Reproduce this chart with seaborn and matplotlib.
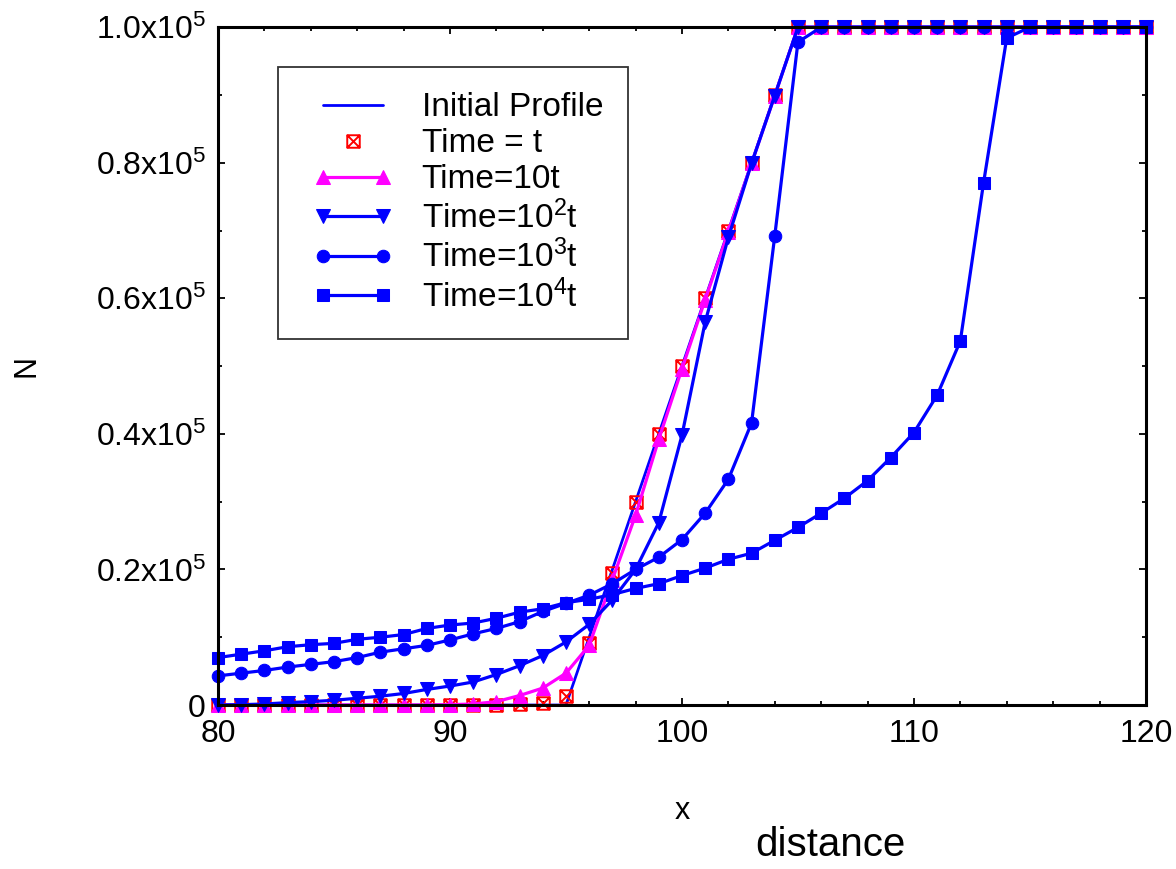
import numpy as np
import pandas as pd
import matplotlib
matplotlib.use("Agg")
import matplotlib.pyplot as plt
import seaborn as sns
from matplotlib.path import Path
from matplotlib.lines import Line2D
from matplotlib.legend_handler import HandlerLine2D
from matplotlib.ticker import MultipleLocator, FixedLocator, FixedFormatter

# ---------------- data ----------------
x = list(range(80, 121))

initial = [0, 0, 0, 0, 0, 0, 0, 0, 0, 0, 0, 0, 0, 0, 0, 0,
           10000, 20000, 30000, 40000, 50000, 60000, 70000, 80000, 90000,
           100000, 100000, 100000, 100000, 100000, 100000, 100000, 100000,
           100000, 100000, 100000, 100000, 100000, 100000, 100000, 100000]

time_t = [0, 0, 0, 0, 0, 0, 0, 0, 0, 0, 0, 0, 0, 100, 250, 1400,
          9200, 19500, 29900, 40000, 50000, 60000, 70000, 80000, 90000,
          100000, 100000, 100000, 100000, 100000, 100000, 100000, 100000,
          100000, 100000, 100000, 100000, 100000, 100000, 100000, 100000]

time_10t = [0, 0, 0, 0, 0, 0, 0, 0, 0, 0, 50, 150, 500, 1400, 2500, 4700,
            8800, 18500, 28000, 39200, 49600, 59800, 69800, 79900, 89900,
            100000, 100000, 100000, 100000, 100000, 100000, 100000, 100000,
            100000, 100000, 100000, 100000, 100000, 100000, 100000, 100000]

time_1e2t = [0, 50, 150, 350, 500, 700, 1000, 1300, 1700, 2300, 2800, 3400,
             4500, 5800, 7300, 9300, 11900, 15500, 20000, 26900, 39800, 56500,
             69000, 79900, 89900,
             100000, 100000, 100000, 100000, 100000, 100000, 100000, 100000,
             100000, 100000, 100000, 100000, 100000, 100000, 100000, 100000]

time_1e3t = [4300, 4700, 5100, 5600, 6000, 6400, 7000, 7800, 8300, 8800,
             9600, 10500, 11300, 12300, 13800, 15000, 16200, 17900, 20000,
             21800, 24400, 28300, 33300, 41600, 69200, 97800,
             100000, 100000, 100000, 100000, 100000, 100000, 100000, 100000,
             100000, 100000, 100000, 100000, 100000, 100000, 100000]

time_1e4t = [7000, 7500, 8000, 8600, 8900, 9100, 9700, 10000, 10400, 11300,
             11800, 12100, 12800, 13700, 14200, 15100, 15600, 16300, 17200,
             17900, 19100, 20200, 21500, 22400, 24300, 26200, 28300, 30500,
             33100, 36500, 40200, 45700, 53700, 77000, 98400,
             100000, 100000, 100000, 100000, 100000, 100000]

labels = ["Initial Profile", "Time = t", "Time=10t",
          "Time=10$^{\\mathregular{2}}$t", "Time=10$^{\\mathregular{3}}$t",
          "Time=10$^{\\mathregular{4}}$t"]

x_ticks = [80, 90, 100, 110, 120]
x_ticklabels = ["80", "90", "100", "110", "120"]
y_ticks = [0, 20000, 40000, 60000, 80000, 100000]
y_ticklabels = ["0", "0.2x10$^{\\mathregular{5}}$", "0.4x10$^{\\mathregular{5}}$",
                "0.6x10$^{\\mathregular{5}}$", "0.8x10$^{\\mathregular{5}}$",
                "1.0x10$^{\\mathregular{5}}$"]

# ---------------- style ----------------
sns.set_theme(style="white")
plt.rcParams["font.family"] = ["Liberation Sans", "DejaVu Sans"]
plt.rcParams["mathtext.fontset"] = "custom"
plt.rcParams["mathtext.rm"] = "Liberation Sans"
plt.rcParams["mathtext.it"] = "Liberation Sans:italic"
plt.rcParams["mathtext.bf"] = "Liberation Sans:bold"
plt.rcParams["text.color"] = "black"
plt.rcParams["axes.labelcolor"] = "black"
plt.rcParams["xtick.color"] = "black"
plt.rcParams["ytick.color"] = "black"

BLUE = "#0000ff"
MAGENTA = "#ff00ff"
RED = "#ff0000"

fig = plt.figure(figsize=(11.76, 8.69), dpi=100)
ax = fig.add_axes([0.1854, 0.1887, 0.789, 0.780])

# square-with-cross marker
sqx = Path([(-1, -1), (1, -1), (1, 1), (-1, 1), (-1, -1),
            (-1, -1), (1, 1), (-1, 1), (1, -1)],
           [Path.MOVETO, Path.LINETO, Path.LINETO, Path.LINETO, Path.CLOSEPOLY,
            Path.MOVETO, Path.LINETO, Path.MOVETO, Path.LINETO])

lw = 2.3
sns.lineplot(x=x, y=initial, ax=ax, color=BLUE, linewidth=2.0,
             label=labels[0], clip_on=False)
sns.lineplot(x=x, y=time_t, ax=ax, color=RED, linestyle="none", marker=sqx,
             markersize=9, markerfacecolor="none", markeredgecolor=RED,
             markeredgewidth=1.4, label=labels[1], clip_on=False)
sns.lineplot(x=x, y=time_10t, ax=ax, color=MAGENTA, linewidth=lw, marker="^",
             markersize=10, markeredgecolor=MAGENTA, label=labels[2], clip_on=False)
sns.lineplot(x=x, y=time_1e2t, ax=ax, color=BLUE, linewidth=lw, marker="v",
             markersize=10.5, markeredgecolor=BLUE, label=labels[3], clip_on=False)
sns.lineplot(x=x, y=time_1e3t, ax=ax, color=BLUE, linewidth=lw, marker="o",
             markersize=9, markeredgecolor=BLUE, label=labels[4], clip_on=False)
sns.lineplot(x=x, y=time_1e4t, ax=ax, color=BLUE, linewidth=lw, marker="s",
             markersize=8.5, markeredgecolor=BLUE, label=labels[5], clip_on=False)

ax.set_xlim(80, 120)
ax.set_ylim(0, 100000)

ax.xaxis.set_major_locator(FixedLocator(x_ticks))
ax.xaxis.set_major_formatter(FixedFormatter(x_ticklabels))
ax.xaxis.set_minor_locator(MultipleLocator(2))
ax.yaxis.set_major_locator(FixedLocator(y_ticks))
ax.yaxis.set_major_formatter(FixedFormatter(y_ticklabels))
ax.yaxis.set_minor_locator(MultipleLocator(10000))

ax.tick_params(which="both", direction="in", top=True, right=True,
               bottom=True, left=True, color="black", width=1.3,
               labelcolor="black")
ax.tick_params(which="major", length=5, labelsize=23)
ax.tick_params(axis="x", which="major", pad=10)
ax.tick_params(axis="y", which="major", pad=9)
ax.tick_params(which="minor", length=3)

for s in ax.spines.values():
    s.set_color("black")
    s.set_linewidth(2.2)

ax.set_xlabel("x", fontsize=22, labelpad=34, color="black")
ax.set_ylabel("N", fontsize=22, labelpad=39, color="black")
fig.text(0.706, 0.006, "distance", fontsize=29, ha="center",
         va="bottom", color="black")

handles, _ = ax.get_legend_handles_labels()
hmap = {h: HandlerLine2D(numpoints=2, xpad=0.3) for h in handles}
hmap[handles[1]] = HandlerLine2D(numpoints=1, xpad=0.3)
leg = ax.legend(handles, labels, handler_map=hmap,
                loc="upper left", bbox_to_anchor=(0.065, 0.941), fontsize=24,
                frameon=True, fancybox=False, edgecolor="black",
                handlelength=2.7, handletextpad=0.85, labelspacing=0.15,
                borderpad=0.75, borderaxespad=0)
leg.get_frame().set_linewidth(1.3)
for t in leg.get_texts():
    t.set_color("black")

fig.savefig("out.png", dpi=100)
